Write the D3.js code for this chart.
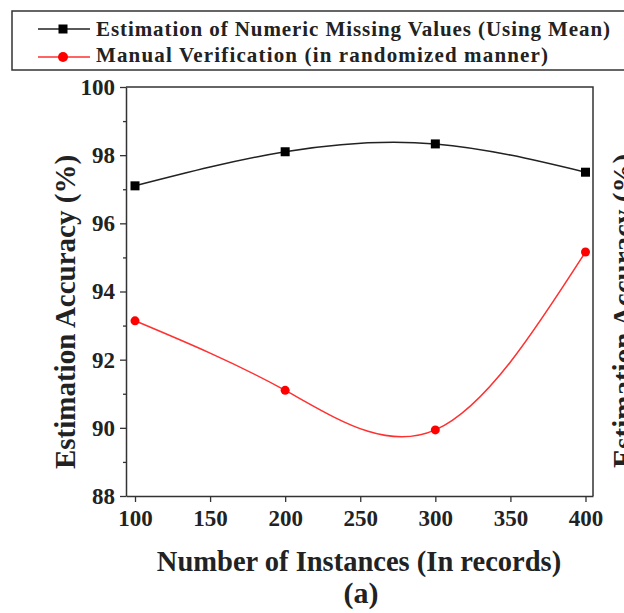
<!DOCTYPE html>
<html>
<head>
<meta charset="utf-8">
<script src="https://cdn.jsdelivr.net/npm/d3@7"></script>
<style>
  html, body { margin: 0; padding: 0; background: #fff; }
  svg { display: block; }
  text { font-family: "Liberation Serif", "Times New Roman", serif; font-weight: bold; fill: #222; }
</style>
</head>
<body>
<svg id="chart" width="624" height="613"></svg>
<script>
// Instances (records) on the x axis
const instances = [100, 200, 300, 400];
// Accuracy (%) of mean-based estimation of numeric missing values
const meanEstimation = [97.1, 98.1, 98.33, 97.5];
// Accuracy (%) of manual verification, randomized
const manualVerification = [93.14, 91.1, 89.94, 95.16];

const xTickValues = [100, 150, 200, 250, 300, 350, 400];
const yTickValues = [88, 90, 92, 94, 96, 98, 100];
const yMinorTickValues = [89, 91, 93, 95, 97, 99];

const seriesNames = [
  "Estimation of Numeric Missing Values (Using Mean)",
  "Manual Verification (in randomized manner)"
];

const svg = d3.select("#chart");

const frame = { left: 126, right: 593, top: 87, bottom: 496 };

const x = d3.scaleLinear().domain([94, 405]).range([frame.left, frame.right]);
const y = d3.scaleLinear().domain([88, 100]).range([frame.bottom, frame.top]);

// Axes: outward ticks, major and minor on y
svg.append("g")
  .attr("transform", `translate(0,${frame.bottom})`)
  .call(d3.axisBottom(x).tickValues(xTickValues).tickSize(6).tickSizeOuter(0).tickPadding(8));

svg.append("g")
  .attr("transform", `translate(${frame.left},0)`)
  .call(d3.axisLeft(y).tickValues(yTickValues).tickSize(6).tickSizeOuter(0).tickPadding(5));

svg.append("g")
  .attr("transform", `translate(${frame.left},0)`)
  .call(d3.axisLeft(y).tickValues(yMinorTickValues).tickSize(3).tickSizeOuter(0).tickFormat(""))
  .select(".domain").remove();

svg.selectAll(".tick line").attr("stroke", "#333").attr("stroke-width", 1.3);
svg.selectAll(".domain").attr("stroke", "#333").attr("stroke-width", 1.5);
svg.selectAll(".tick text")
  .style("font-family", "'Liberation Serif', serif")
  .style("font-weight", "bold")
  .style("font-size", "23px")
  .attr("fill", "#222");

// Plot frame (top and right edges)
svg.append("path")
  .attr("d", `M${frame.left},${frame.top}H${frame.right}V${frame.bottom}`)
  .attr("fill", "none").attr("stroke", "#333").attr("stroke-width", 1.5);

const line = d3.line()
  .x((d, i) => x(instances[i]))
  .y(d => y(d))
  .curve(d3.curveNatural);

// Mean estimation series
svg.append("path")
  .datum(meanEstimation)
  .attr("d", line)
  .attr("fill", "none").attr("stroke", "#222").attr("stroke-width", 1.5);

svg.append("g").selectAll("rect")
  .data(meanEstimation)
  .join("rect")
  .attr("x", (d, i) => x(instances[i]) - 4.5)
  .attr("y", d => y(d) - 4.5)
  .attr("width", 9).attr("height", 9)
  .attr("fill", "#000");

// Manual verification series
svg.append("path")
  .datum(manualVerification)
  .attr("d", line)
  .attr("fill", "none").attr("stroke", "#ff3030").attr("stroke-width", 1.5);

svg.append("g").selectAll("circle")
  .data(manualVerification)
  .join("circle")
  .attr("cx", (d, i) => x(instances[i]))
  .attr("cy", d => y(d))
  .attr("r", 4.5)
  .attr("fill", "#ff0000");

// Axis titles
svg.append("text")
  .attr("transform", "translate(75,312) rotate(-90)")
  .attr("text-anchor", "middle")
  .style("font-size", "29px")
  .text("Estimation Accuracy (%)");

svg.append("text")
  .attr("x", 359).attr("y", 571)
  .attr("text-anchor", "middle")
  .style("font-size", "28.5px")
  .text("Number of Instances (In records)");

svg.append("text")
  .attr("x", 361).attr("y", 603)
  .attr("text-anchor", "middle")
  .style("font-size", "30px")
  .text("(a)");

// Neighbouring panel's y title, cut by the right edge
svg.append("text")
  .attr("transform", "translate(633,311) rotate(-90)")
  .attr("text-anchor", "middle")
  .style("font-size", "29px")
  .text("Estimation Accuracy (%)");

// Legend
const legend = svg.append("g");
legend.append("rect")
  .attr("x", 12).attr("y", 11)
  .attr("width", 630).attr("height", 59)
  .attr("fill", "#fff").attr("stroke", "#333").attr("stroke-width", 1.5);

const legendRows = [
  { name: seriesNames[0], color: "#222", marker: "square", cy: 29, base: 36, width: 514 },
  { name: seriesNames[1], color: "#ff3030", marker: "circle", cy: 57, base: 62, width: 452 }
];

legendRows.forEach(r => {
  legend.append("line")
    .attr("x1", 38).attr("x2", 90).attr("y1", r.cy).attr("y2", r.cy)
    .attr("stroke", r.color).attr("stroke-width", 1.5);
  if (r.marker === "square") {
    legend.append("rect").attr("x", 58.5).attr("y", r.cy - 4.5)
      .attr("width", 9).attr("height", 9).attr("fill", "#000");
  } else {
    legend.append("circle").attr("cx", 63).attr("cy", r.cy).attr("r", 5)
      .attr("fill", "#ff0000");
  }
  legend.append("text")
    .attr("x", 96).attr("y", r.base)
    .attr("textLength", r.width)
    .attr("lengthAdjust", "spacing")
    .style("font-size", "21px")
    .text(r.name);
});
</script>
</body>
</html>
